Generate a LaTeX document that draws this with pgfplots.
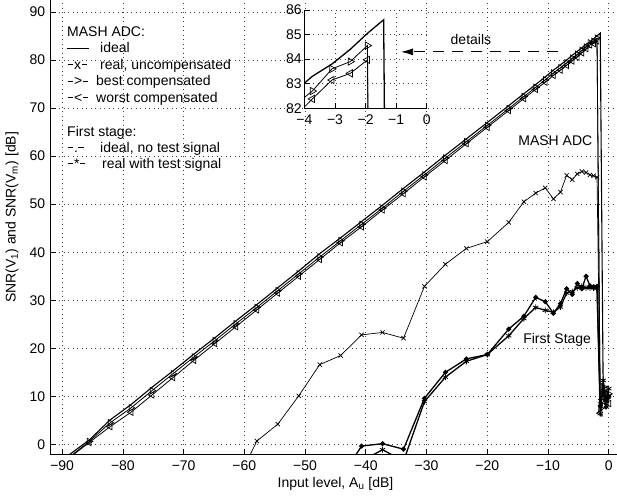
\documentclass[border=0pt]{standalone}
\usepackage{fontspec}
\setmainfont{Liberation Sans}
\usepackage{pgfplots}
\usepackage{pgfplotstable}
\pgfplotsset{compat=1.18}
\usetikzlibrary{arrows.meta}

\pgfplotstableread{
x y
-89.0 -2.3
-85.55 0.9
-82.1 5.1
-78.65 8.3
-75.2 11.9
-71.75 15.3
-68.3 18.8
-64.85 22.2
-61.4 25.7
-57.95 29.1
-54.5 32.6
-51.05 36.1
-47.6 39.7
-44.15 43.0
-40.7 46.4
-37.25 49.8
-33.8 53.3
-30.35 56.7
-26.9 60.2
-23.45 63.6
-20.0 67.0
-16.48 70.5
-13.98 73.0
-12.04 74.9
-10.46 76.5
-9.12 77.9
-7.96 79.0
-6.94 80.0
-6.02 81.0
-5.19 81.8
-4.44 82.55
-3.74 83.3
-3.10 83.8
-2.50 84.4
-1.94 85.05
-1.41 85.6
-0.92 10.5
-0.45 8.5
0 11.2
}\mideal

\pgfplotstableread{
x y
-89.0 -2.8
-85.55 0.6
-82.1 4.5
-78.65 7.6
-75.2 11.2
-71.75 14.7
-68.3 18.2
-64.85 21.6
-61.4 25.1
-57.95 28.5
-54.5 32.0
-51.05 35.5
-47.6 39.0
-44.15 42.4
-40.7 45.8
-37.25 49.2
-33.8 52.7
-30.35 56.1
-26.9 59.6
-23.45 63.0
-20.0 66.4
-16.48 69.9
-13.98 72.4
-12.04 74.3
-10.46 75.9
-9.12 77.3
-7.96 78.4
-6.94 79.4
-6.02 80.4
-5.19 81.2
-4.44 82.0
-3.74 82.7
-3.10 83.6
-2.50 83.9
-1.94 84.55
-1.41 7.5
-0.92 12.0
-0.45 9.5
0 10.5
}\mbest

\pgfplotstableread{
x y
-89.0 -3.0
-85.55 0.4
-82.1 3.7
-78.65 6.7
-75.2 10.3
-71.75 13.9
-68.3 17.5
-64.85 21.0
-61.4 24.5
-57.95 28.0
-54.5 31.5
-51.05 35.0
-47.6 38.5
-44.15 42.0
-40.7 45.3
-37.25 48.8
-33.8 52.2
-30.35 55.7
-26.9 59.1
-23.45 62.6
-20.0 66.0
-16.48 69.5
-13.98 72.0
-12.04 73.9
-10.46 75.4
-9.12 76.8
-7.96 77.9
-6.94 78.9
-6.02 79.8
-5.19 80.6
-4.44 81.5
-3.74 82.38
-3.10 83.15
-2.50 83.42
-1.94 83.97
-1.41 6.5
-0.92 9.0
-0.45 11.5
0 8.5
}\mworst

\pgfplotstableread{
x y
-61.4 -8.3
-57.95 0.7
-54.5 4.2
-51.05 10.1
-47.6 16.6
-44.15 18.5
-40.7 22.8
-37.25 23.3
-33.8 22.1
-30.35 32.9
-26.9 37.5
-23.45 40.8
-20.0 42.2
-16.48 46.2
-13.98 50.5
-12.04 52.3
-10.46 53.4
-9.12 51.1
-7.96 52.5
-6.94 56.0
-6.02 55.1
-5.19 56.3
-4.44 56.8
-3.74 56.6
-3.10 56.1
-2.50 55.9
-1.94 55.6
-1.41 9.0
-0.92 11.0
-0.45 8.0
0 10.0
}\munc

\pgfplotstableread{
x y
-44.15 -7.0
-40.7 -0.35
-37.25 0.15
-33.8 -1.0
-30.35 9.6
-26.9 15.0
-23.45 17.8
-20.0 18.7
-16.48 24.0
-13.98 26.7
-12.04 30.6
-10.46 29.7
-9.12 27.3
-7.96 29.3
-6.94 32.4
-6.02 31.2
-5.19 33.5
-4.44 32.4
-3.74 35.0
-3.10 33.0
-2.50 32.8
-1.94 32.9
-1.41 8.0
-0.92 11.0
-0.45 7.8
0 10.0
}\fideal

\pgfplotstableread{
x y
-40.7 -3.5
-37.25 -1.1
-33.8 -3.5
-30.35 8.9
-26.9 14.0
-23.45 17.3
-20.0 18.7
-16.48 22.6
-13.98 26.2
-12.04 28.5
-10.46 27.9
-9.12 27.5
-7.96 28.6
-6.94 31.5
-6.02 31.8
-5.19 32.6
-4.44 32.9
-3.74 32.6
-3.10 32.6
-2.50 32.6
-1.94 32.5
-1.41 6.4
-0.92 13.3
-0.45 9.2
0 11.6
}\freal

\pgfplotsset{
  myaxis/.style={
    scale only axis,
    axis lines=left,
    axis line style={-, line width=0.7bp},
    every outer x axis line/.append style={-},
    every outer y axis line/.append style={-},
    tick align=inside,
    major tick length=5.5bp,
    tick style={line width=0.7bp, black},
    grid=major,
    grid style={dash pattern=on 0.9bp off 3.6bp, black!75, line width=0.7bp},
    xticklabel style={anchor=base, yshift=-16bp},
  },
  sideal/.style={black, line width=1.1bp, mark=none},
  sunc/.style={black, line width=0.7bp, mark=x, mark size=3bp, mark options={line width=0.7bp}},
  sbest/.style={black, line width=0.8bp, mark=triangle, mark size=3.7bp, mark options={rotate=-90, line width=0.7bp}},
  sworst/.style={black, line width=0.8bp, mark=triangle, mark size=3.7bp, mark options={rotate=90, line width=0.7bp}},
  sfideal/.style={black, line width=1.3bp, mark=*, mark size=1.8bp},
  sfreal/.style={black, line width=1.3bp, mark=asterisk, mark size=3bp, mark options={line width=0.8bp}},
}
\newcommand\dsh{\hspace{0.4bp}\rule[4.2bp]{5.4bp}{0.9bp}\hspace{1.2bp}}

\begin{document}
\fontsize{14bp}{16.5bp}\selectfont
\begin{tikzpicture}
\begin{axis}[myaxis, name=main,
  width=567bp, height=454bp,
  xmin=-92, xmax=1.35, ymin=-2, ymax=92.5,
  xtick={-90,-80,-70,-60,-50,-40,-30,-20,-10,0},
  xticklabels={−90,−80,−70,−60,−50,−40,−30,−20,−10,0},
  ytick={0,10,20,30,40,50,60,70,80,90},
  yticklabels={0,10,20,30,40,50,60,70,80,90},
  xlabel={Input level, A\textsubscript{u} [dB]},
  xlabel style={at={(axis description cs:0.5035,0)}, anchor=base, yshift=-33bp},
  ylabel={SNR(V\textsubscript{1}) and SNR(V\textsubscript{m}) [dB]},
  ylabel style={at={(axis description cs:-0.067,0.521)}, anchor=center},
]
\addplot[sfideal] table[x=x,y=y] {\fideal};
\addplot[sfreal] table[x=x,y=y] {\freal};
\addplot[sunc] table[x=x,y=y] {\munc};
\addplot[sworst] table[x=x,y=y] {\mworst};
\addplot[sbest] table[x=x,y=y] {\mbest};
\addplot[sideal] table[x=x,y=y] {\mideal};

\node[anchor=base] at (axis cs:-8.8,62.3) {MASH ADC};
\node[anchor=base] at (axis cs:-8.5,21.1) {First Stage};

\node[anchor=base west, inner sep=0] at (axis cs:-89.2,84.80) {MASH ADC:};
\node[anchor=base west, inner sep=0] at (axis cs:-89.2,81.47) {\makebox[33bp][l]{\rule[4.2bp]{22bp}{0.8bp}}ideal};
\node[anchor=base west, inner sep=0] at (axis cs:-89.2,78.04) {\makebox[33bp][l]{\dsh x\dsh}real, uncompensated};
\node[anchor=base west, inner sep=0] at (axis cs:-89.2,74.60) {\makebox[29bp][l]{\dsh >\dsh}best compensated};
\node[anchor=base west, inner sep=0] at (axis cs:-89.2,71.16) {\makebox[29bp][l]{\dsh <\dsh}worst compensated};
\node[anchor=base west, inner sep=0] at (axis cs:-89.2,64.19) {First stage:};
\node[anchor=base west, inner sep=0] at (axis cs:-89.2,60.86) {\makebox[33bp][l]{\dsh .\dsh}ideal, no test signal};
\node[anchor=base west, inner sep=0] at (axis cs:-89.2,57.46) {\makebox[35bp][l]{\dsh *\dsh}real with test signal};

\coordinate (arrS) at (axis cs:-8.35,81.7);
\coordinate (arrE) at (axis cs:-34.2,81.7);
\coordinate (detl) at (axis cs:-22.7,83.3);
\coordinate (insw) at (axis cs:-50.12,69.96);
\end{axis}

\begin{axis}[myaxis,
  at={(insw)}, anchor=south west,
  width=122.4bp, height=98.3bp,
  xmin=-4, xmax=0, ymin=82, ymax=86,
  xtick={-4,-3,-2,-1,0},
  xticklabels={−4,−3,−2,−1,0},
  ytick={82,83,84,85,86},
  yticklabels={82,83,84,85,86},
  yticklabel style={inner xsep=2.5bp},
  axis background/.style={fill=white},
]
\addplot[sworst, mark size=4.2bp] table[x=x,y=y] {\mworst};
\addplot[sbest, mark size=4.2bp] table[x=x,y=y] {\mbest};
\addplot[sideal, line width=1.3bp] table[x=x,y=y] {\mideal};
\end{axis}

\draw[line width=0.8bp, dash pattern=on 11bp off 8bp, -{Latex[length=12bp,width=7bp]}] (arrS) -- (arrE);
\node[anchor=base] at (detl) {details};

\pgfresetboundingbox
\path[use as bounding box] ([xshift=-50bp,yshift=-43bp]main.south west) rectangle (main.north east);
\end{tikzpicture}
\end{document}
